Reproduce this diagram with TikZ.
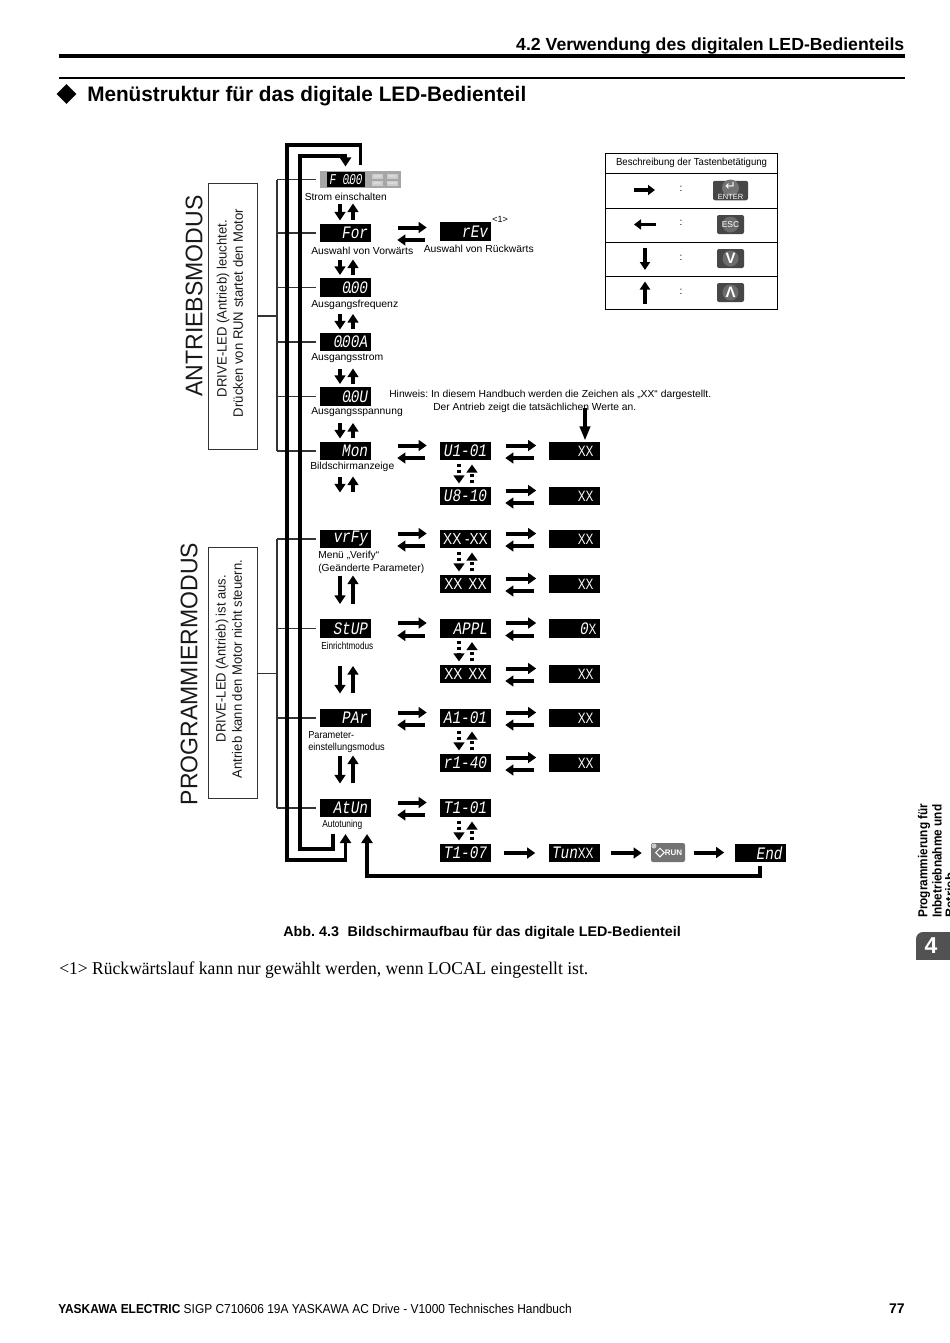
\documentclass[tikz,border=0pt]{standalone}
\usepackage{fontspec}
\usepackage{graphicx}
\setmainfont{Liberation Sans}
\newfontfamily\serifx{Liberation Serif}
\newfontfamily\segf{Liberation Mono}
\usetikzlibrary{arrows.meta,calc,shapes.geometric}
\newdimen\px \px=0.75pt
\frenchspacing
\newcommand{\fpx}[1]{\fontsize{#1\px}{1.2\dimexpr#1\px\relax}\selectfont}
\newcommand{\fitw}[2]{\resizebox{#1\px}{\height}{#2}}
\newcommand{\seg}[1]{\scalebox{.82}[1]{\fpx{17.5}\segf\itshape #1}}
\newcommand{\dt}{\makebox[0pt]{.}}
\newcommand{\xxt}[1]{{\fpx{15}\scalebox{.78}[1]{#1}}}
\newcommand{\xxb}[1]{{\fpx{16}\scalebox{.85}[1]{#1}}}
\tikzset{
  disp/.style={fill=black,text=white,minimum width=51\px,minimum height=18.5\px,inner sep=0pt,inner xsep=3\px,align=right,anchor=center},
  dl/.style={disp,text width=45\px},
  lab/.style={anchor=west,inner sep=0pt,font=\fpx{10.2},text=black,yshift=-0.4pt},
  thinl/.style={draw=black!80,line width=1.2\px},
  harrow/.style={line width=4\px,-{Triangle[length=6pt,width=8pt]}},
  varrow/.style={line width=3.5\px,-{Triangle[length=6.4pt,width=8pt]}},
  darrow/.style={line width=3.4\px,dash pattern=on 3\px off 3.2\px,-{Triangle[length=6pt,width=8pt]}},
  loopl/.style={line width=3.8\px,line join=miter,-{Triangle[length=6.75pt,width=8.25pt]}},
  rowbox/.style={draw=black,line width=1.1\px,minimum width=172\px,inner sep=0pt,anchor=north west},
  keyk/.style={fill=black!68,rounded corners=2\px,inner sep=0pt,text=white,minimum width=27\px,minimum height=19\px},
  lamp/.style={fill=black!20,inner sep=0pt,minimum width=11\px,minimum height=5\px,text=white,font=\fpx{3}},
  modetxt/.style={rotate=90,inner sep=0pt,anchor=center,text=black!90},
}
% horizontal pair a<->b
\newcommand{\hpair}[4]{%
  \path ($(#1.east)+(0,-5.5)$) coordinate (pt);
  \draw[harrow,shorten <=#3\px,shorten >=#4\px] (pt) -- (pt -| #2.west);
  \path ($(#1.east)+(0,7)$) coordinate (pb);
  \draw[harrow,shorten <=\dimexpr#4\px+2\px\relax,shorten >=\dimexpr#3\px-1\px\relax] (pb -| #2.west) -- (pb);
}
% one way
\newcommand{\hone}[4]{\draw[harrow,shorten <=#3\px,shorten >=#4\px] (#1.east) -- (#1.east -| #2.west);}
% vertical pair
\newcommand{\vpair}[4]{%
  \path (#1.south -| #2.north) ++(-5.5,0) coordinate (pa) (#2.north) ++(-5.5,0) coordinate (pe);
  \draw[varrow,shorten <=#3\px,shorten >=#4\px] (pa) -- (pe);
  \path (#1.south -| #2.north) ++(7.5,0) coordinate (qa) (#2.north) ++(7.5,0) coordinate (qe);
  \draw[varrow,shorten <=#4\px,shorten >=#3\px] (qe) -- (qa);
}
% dotted vertical pair
\newcommand{\dpair}[2]{%
  \path (#1.south) ++(-6.5,0) coordinate (pa) (#2.north) ++(-6.5,0) coordinate (pe);
  \draw[darrow,shorten <=3\px,shorten >=3\px] (pa) -- (pe);
  \path (#1.south) ++(6.5,0) coordinate (qa) (#2.north) ++(6.5,0) coordinate (qe);
  \draw[darrow,shorten <=3\px,shorten >=4\px] (qe) -- (qa);
}
\begin{document}
\begin{tikzpicture}[x=0.75pt,y=-0.75pt]
\useasboundingbox (0,0) rectangle (950,1343);
\fill[white] (0,0) rectangle (950,1343);

% page header
\node[anchor=east,inner sep=0pt,font=\bfseries\fpx{17.5}] (hdr) at (904.5,46) {\fitw{388}{4.2 Verwendung des digitalen LED-Bedienteils}};
\coordinate (r1a) at (59,56); \coordinate (r1b) at (905,56);
\draw[line width=3.4\px] (r1a) -- (r1b);
\coordinate (r2a) at (59,78); \coordinate (r2b) at (905,78);
\draw[line width=1.6\px] (r2a) -- (r2b);
\node[diamond,fill=black,minimum width=20\px,minimum height=20\px,inner sep=0pt] (dia) at (66.5,94) {};
\node[anchor=west,inner sep=0pt,font=\bfseries\fpx{21}] (title) at (87,96) {\fitw{439}{Menüstruktur für das digitale LED-Bedienteil}};

% mode boxes
\node[draw=black!80,line width=1\px,minimum width=49\px,minimum height=266\px,inner sep=0pt] (bA) at (232.5,316) {};
\node[draw=black!80,line width=1\px,minimum width=49\px,minimum height=251.5\px,inner sep=0pt] (bP) at (232.5,673.2) {};
\node[modetxt,font=\fpx{24}] (mA) at (194,296) {\fitw{201}{ANTRIEBSMODUS}};
\node[modetxt,font=\fpx{24}] (mP) at (189,674) {\fitw{262}{PROGRAMMIERMODUS}};
\node[modetxt,font=\fpx{13.6}] (tA1) at (223,308.5) {\fitw{177}{DRIVE-LED (Antrieb) leuchtet.}};
\node[modetxt,font=\fpx{13.6}] (tA2) at (238,313) {\fitw{208}{Drücken von RUN startet den Motor}};
\node[modetxt,font=\fpx{13.6}] (tP1) at (222,658.5) {\fitw{167}{DRIVE-LED (Antrieb) ist aus.}};
\node[modetxt,font=\fpx{13.6}] (tP2) at (237,669) {\fitw{218}{Antrieb kann den Motor nicht steuern.}};

% displays: column 1
\node[fill=black!35,minimum width=81\px,minimum height=17.5\px,inner sep=0pt] (pwr) at (360.5,179.5) {};
\node[fill=black,text=white,minimum width=38\px,minimum height=15\px,inner sep=0pt] (pwrd) at (346,179.5) {\fitw{33}{\fpx{15}\segf\itshape F 0\dt00}};
\node[lamp] (l1) at (377.5,176.5) {ALM};
\node[lamp] (l2) at (392.5,176.5) {REV};
\node[lamp] (l3) at (377.5,183.5) {DRV};
\node[lamp] (l4) at (392.5,183.5) {FOUT};
\node[dl] (for) at (345.5,233) {\seg{For}};
\node[dl] (f0) at (345.5,287.5) {\seg{0\dt00}};
\node[dl] (a0) at (345.5,342) {\seg{0\dt00A}};
\node[dl] (v0) at (345.5,396.5) {\seg{0\dt0U}};
\node[dl] (mon) at (345.5,451) {\seg{Mon}};
\node[dl] (vry) at (345.5,539) {\seg{vrFy}};
\node[dl] (stu) at (345.5,628.5) {\seg{StUP}};
\node[dl] (par) at (345.5,718) {\seg{PAr}};
\node[dl] (atu) at (345.5,808) {\seg{AtUn}};
% column 2
\node[dl] (rev) at (465.5,231.5) {\seg{rEv}};
\node[disp] (u1) at (465.5,451) {\seg{U1-01}};
\node[disp] (u8) at (465.5,496) {\seg{U8-10}};
\node[disp] (x1) at (465.5,539) {\xxb{XX -XX}};
\node[disp] (x2) at (465.5,584) {\xxb{XX\hspace{7\px}XX}};
\node[dl] (app) at (465.5,628.5) {\seg{APPL}};
\node[disp] (x3) at (465.5,674) {\xxb{XX\hspace{7\px}XX}};
\node[disp] (a1) at (465.5,718) {\seg{A1-01}};
\node[disp] (r1) at (465.5,763) {\seg{r1-40}};
\node[disp] (t1) at (465.5,808) {\seg{T1-01}};
\node[disp] (t7) at (465.5,853) {\seg{T1-07}};
% column 3
\node[dl] (c1) at (574,451) {\xxt{XX}\hspace*{3\px}};
\node[dl] (c2) at (574,496) {\xxt{XX}\hspace*{3\px}};
\node[dl] (c3) at (574,539) {\xxt{XX}\hspace*{3\px}};
\node[dl] (c4) at (574,584) {\xxt{XX}\hspace*{3\px}};
\node[dl] (c5) at (574,628.5) {\seg{0}\xxt{X}};
\node[dl] (c6) at (574,674) {\xxt{XX}\hspace*{3\px}};
\node[dl] (c7) at (574,718) {\xxt{XX}\hspace*{3\px}};
\node[dl] (c8) at (574,763) {\xxt{XX}\hspace*{3\px}};
\node[dl] (tun) at (574,853) {\seg{Tun}\xxt{XX}\hspace*{3\px}};
\node[dl] (end) at (760,853) {\seg{End}};
% RUN key
\node[keyk,fill=black!55,minimum width=34\px,minimum height=19\px,font=\bfseries\fpx{8},anchor=center] (run) at (668,852.5) {\hspace{11\px}RUN};
\node[diamond,draw=white,line width=1\px,minimum width=9\px,minimum height=9\px,inner sep=0pt] (rund) at (660,852.5) {};
\node[circle,fill=black!20,minimum size=5\px,inner sep=0pt] (runl) at (654,846) {};

% labels
\node[lab] (s0) at (304.5,196) {\fitw{82}{Strom einschalten}};
\node[lab] (s1) at (311,250) {\fitw{102}{Auswahl von Vorwärts}};
\node[lab] (s1b) at (423.5,248) {\fitw{110}{Auswahl von Rückwärts}};
\node[lab,font=\fpx{9}] (s1c) at (492,219) {<1>};
\node[lab] (s2) at (311,304) {\fitw{87}{Ausgangsfrequenz}};
\node[lab] (s3) at (311,358) {\fitw{72}{Ausgangsstrom}};
\node[lab] (s4) at (311,412) {\fitw{91.5}{Ausgangsspannung}};
\node[lab] (s5) at (310,466) {\fitw{84}{Bildschirmanzeige}};
\node[lab] (s6) at (318,555) {\fitw{61}{Menü „Verify“}};
\node[lab] (s7) at (318,568) {\fitw{106}{(Geänderte Parameter)}};
\node[lab] (s8) at (321,645) {\fitw{52}{Einrichtmodus}};
\node[lab] (s9) at (308,734) {\fitw{46}{Parameter-}};
\node[lab] (s10) at (308,747) {\fitw{76.5}{einstellungsmodus}};
\node[lab] (s11) at (322,824) {\fitw{40}{Autotuning}};
\node[lab] (h1) at (389,394.5) {\fitw{322}{Hinweis: In diesem Handbuch werden die Zeichen als „XX“ dargestellt.}};
\node[lab] (h2) at (433,407.5) {\fitw{203}{Der Antrieb zeigt die tatsächlichen Werte an.}};

% bracket lines
\coordinate (brAt) at (277,180); \coordinate (brAb) at (277,451);
\draw[thinl] (bA.east) -- (bA.east -| brAt);
\draw[thinl] (brAt) -- (brAb);
\foreach \n in {pwr,for,f0,a0,v0,mon}{
  \draw[thinl] (brAt |- \n) -- ++(39,0);
}
\coordinate (brPt) at (277,539); \coordinate (brPb) at (277,808);
\draw[thinl] (bP.east) -- (bP.east -| brPt);
\draw[thinl] (brPt) -- (brPb);
\foreach \n in {vry,stu,par,atu}{
  \draw[thinl] (brPt |- \n) -- ++(39,0);
}

% thick loops
\coordinate (oTL) at (287,145); \coordinate (oBL) at (287,860);
\coordinate (iTL) at (300,156); \coordinate (iBL) at (300,849);
\coordinate (iS) at (333,834);
\draw[loopl,shorten <=5\px,shorten >=26\px] (pwr.north) |- (oTL) -- (oBL) -| (atu.center);
\draw[loopl,shorten >=4\px] (iS) |- (iBL) -- (iTL) -| (pwr.north -| for.north);
\coordinate (bEnd) at (367,876); \coordinate (tEnd) at (367,834);
\draw[loopl,shorten <=3\px] (end.south) |- (bEnd) -- (tEnd);

% horizontal pairs
\hpair{for}{rev}{27}{13}
\hpair{mon}{u1}{27}{13}\hpair{u1}{c1}{15}{12}
\hpair{u8}{c2}{15}{12}
\hpair{vry}{x1}{27}{13}\hpair{x1}{c3}{15}{12}
\hpair{x2}{c4}{15}{12}
\hpair{stu}{app}{27}{13}\hpair{app}{c5}{15}{12}
\hpair{x3}{c6}{15}{12}
\hpair{par}{a1}{27}{13}\hpair{a1}{c7}{15}{12}
\hpair{r1}{c8}{15}{12}
\hpair{atu}{t1}{27}{13}
\hone{t7}{tun}{13}{13}
\hone{tun}{run}{11}{9}
\hone{run}{end}{9}{10}

% vertical pairs
\vpair{pwr}{for}{15}{3}
\vpair{for}{f0}{17}{3}
\vpair{f0}{a0}{17}{3}
\vpair{a0}{v0}{17}{3}
\vpair{v0}{mon}{17}{3}
\vpair{mon}{vry}{16}{37}
\vpair{vry}{stu}{27}{15}
\vpair{stu}{par}{28}{15}
\vpair{par}{atu}{28}{15}

% dotted pairs
\dpair{u1}{u8}\dpair{x1}{x2}\dpair{app}{x3}\dpair{a1}{r1}\dpair{t1}{t7}

% hint arrow
\coordinate (hS) at (585,408);
\draw[line width=3.4\px,-{Triangle[length=10.5pt,width=7.5pt]},shorten >=1\px] (hS) -- (hS |- c1.north);

% legend table
\node[rowbox,minimum height=20.5\px] (t0) at (605,152.5) {\raisebox{-1\px}{\fitw{151}{\fpx{10.2}Beschreibung der Tastenbetätigung}}};
\node[rowbox,minimum height=35\px] (t1r) at (605,173) {};
\node[rowbox,minimum height=34\px] (t2r) at (605,208) {};
\node[rowbox,minimum height=34\px] (t3r) at (605,242) {};
\node[rowbox,minimum height=33\px] (t4r) at (605,276) {};
\coordinate (la) at (634,190); \coordinate (lb) at (655,190);
\draw[line width=3.6\px,-{Triangle[length=5.25pt,width=7.5pt]}] (la) -- (lb);
\coordinate (la2) at (655.5,224.5); \coordinate (lb2) at (634,224.5);
\draw[line width=3.6\px,-{Triangle[length=5.25pt,width=7.5pt]}] (la2) -- (lb2);
\coordinate (la3) at (645,247.5); \coordinate (lb3) at (645,270);
\draw[line width=3.4\px,-{Triangle[length=6pt,width=7.5pt]}] (la3) -- (lb3);
\coordinate (la4) at (645,303.5); \coordinate (lb4) at (645,281.5);
\draw[line width=3.4\px,-{Triangle[length=6pt,width=7.5pt]}] (la4) -- (lb4);
\foreach \n/\yy in {c1k/189,c2k/223,c3k/258,c4k/292}{
  \node[inner sep=0pt,font=\fpx{10}] (\n) at (681,\yy) {:};
}
% keys
\node[keyk,fill=black!72,minimum width=35\px,minimum height=19.5\px] (kE) at (730.5,190.5) {};
\node[circle,fill=black!55,minimum size=17\px,inner sep=0pt] (kEc) at (730.5,188) {};
\node[inner sep=0pt,text=white,font=\fpx{13}] (kEa) at (730.5,186) {\fontspec{DejaVu Sans}↵};
\node[inner sep=0pt,text=white,font=\fpx{7.5}] (kEt) at (730.5,196.5) {ENTER};
\node[keyk,fill=black!72] (kC) at (730.5,224.5) {};
\node[circle,fill=black!58,minimum size=16\px,inner sep=0pt] (kCc) at (730.5,224.5) {};
\node[inner sep=0pt,text=white,font=\fpx{8.5}] (kCt) at (730.5,224.5) {ESC};
\node[keyk,fill=black!72] (kD) at (730.5,258.5) {};
\node[circle,fill=black!58,minimum size=16\px,inner sep=0pt] (kDc) at (730.5,258.5) {};
\node[inner sep=0pt,text=white,font=\bfseries\fpx{15}] (kDt) at (730.5,258.5) {V};
\node[keyk,fill=black!72] (kU) at (730.5,292.5) {};
\node[circle,fill=black!58,minimum size=16\px,inner sep=0pt] (kUc) at (730.5,292.5) {};
\node[inner sep=0pt,text=white,font=\bfseries\fpx{15}] (kUt) at (730.5,292.5) {Λ};

% caption, footnote
\node[anchor=west,inner sep=0pt,font=\bfseries\fpx{14}] (cap) at (283,933) {\fitw{397.5}{Abb. 4.3\hspace{.6em}Bildschirmaufbau für das digitale LED-Bedienteil}};
\node[anchor=west,inner sep=0pt,font=\serifx\fpx{18}] (fn) at (59,970) {\fitw{529}{<1> Rückwärtslauf kann nur gewählt werden, wenn LOCAL eingestellt ist.}};

% side tab
\node[rotate=90,anchor=west,inner sep=0pt,font=\bfseries\fpx{13},align=left] (side1) at (924,918) {\fitw{114}{Programmierung für}};
\node[rotate=90,anchor=west,inner sep=0pt,font=\bfseries\fpx{13},align=left] (side2) at (937,918) {\fitw{113}{Inbetriebnahme und}};
\node[rotate=90,anchor=west,inner sep=0pt,font=\bfseries\fpx{13},align=left] (side3) at (950,918) {Betrieb};
\fill[black!68,rounded corners=7\px] (916,959) -- (916,932) -- (960,932) -- (960,959) -- cycle;
\fill[black!68] (916,950) rectangle (950,959.5);
\node[inner sep=0pt,text=white,font=\bfseries\fpx{23}] (tab4) at (931,945.5) {4};

% footer
\node[anchor=west,inner sep=0pt,font=\fpx{13}] (foot) at (58,1308.5) {\fitw{513.5}{\textbf{YASKAWA ELECTRIC} SIGP C710606 19A YASKAWA AC Drive - V1000 Technisches Handbuch}};
\node[anchor=east,inner sep=0pt,font=\bfseries\fpx{14}] (pg) at (905,1308.5) {77};
\end{tikzpicture}
\end{document}
